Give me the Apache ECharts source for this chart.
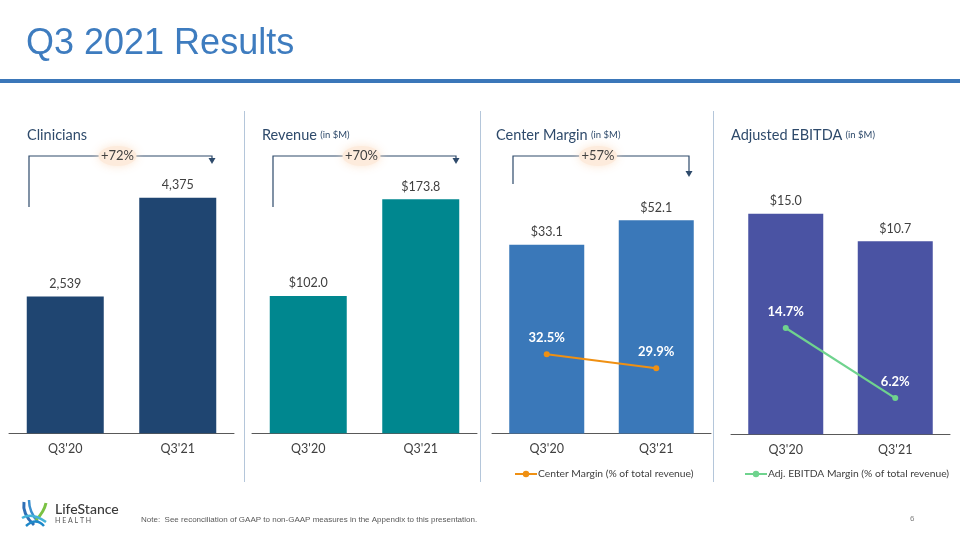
<!DOCTYPE html>
<html lang="en">
<head>
<meta charset="UTF-8" />
<script src="https://cdn.jsdelivr.net/npm/echarts@6/dist/echarts.min.js"></script>
<style>
html,body{margin:0;padding:0;background:#fff}
#main{width:960px;height:540px}
</style>
</head>
<body>
<div id="main"></div>
<script type="text/javascript">
// 数据
var quarters = ["Q3'20", "Q3'21"];
var clinicians = [2539, 4375];
var revenue = [102.0, 173.8];
var centerMargin = [33.1, 52.1];
var centerMarginPct = [32.5, 29.9];
var adjEbitda = [15.0, 10.7];
var adjEbitdaPct = [14.7, 6.2];
var growthLabels = ['+72%', '+70%', '+57%'];
var cmLegend = 'Center Margin (% of total revenue)';
var ebLegend = 'Adj. EBITDA Margin (% of total revenue)';

var FONT = 'Lato, "Open Sans", sans-serif';
var GREY = '#404040';
var NAVY = '#2e4a6b';

function catAxis(i){
	return {
		type:'category', gridIndex:i, data:quarters,
		axisLine:{onZero:false, lineStyle:{color:'#595959', width:1}},
		axisTick:{show:false},
		axisLabel:{color:GREY, fontSize:12.5, fontFamily:FONT, margin:9}
	};
}
function barLabel(fmt){
	return {show:true, position:'top', distance:6, color:GREY, fontSize:12.5, fontFamily:FONT, formatter:fmt};
}
function pctLabel(){
	return {show:true, position:'top', distance:7, color:'#fff', fontSize:13, fontWeight:'bold', fontFamily:FONT,
		formatter:function(p){return p.value.toFixed(1)+'%';}};
}
function money(p){return '$'+p.value.toFixed(1);}

// 标题 + 括号
function panelTitle(x, main, sub){
	return {type:'text', x:x, y:135, style:{
		text: sub ? '{a|'+main+'} {b|'+sub+'}' : '{a|'+main+'}',
		rich:{a:{fontSize:14.5, fill:NAVY, fontFamily:FONT}, b:{fontSize:9.5, fill:NAVY, fontFamily:FONT}},
		textVerticalAlign:'middle'
	}};
}
function bracket(x1, x2, yTop, yLeft, yArrow, lbl){
	var cx = (x1 + x2) / 2 - 3;
	return [
		{type:'polyline', shape:{points:[[x1,yLeft],[x1,yTop],[x2,yTop],[x2,yArrow-5]]},
			style:{stroke:NAVY, lineWidth:1.2, fill:null}},
		{type:'polygon', shape:{points:[[x2-3.5,yArrow-6],[x2+3.5,yArrow-6],[x2,yArrow]]}, style:{fill:NAVY}},
		{type:'ellipse', shape:{cx:cx, cy:yTop, rx:19, ry:10},
			style:{fill:'#fdebdc', shadowBlur:10, shadowColor:'rgba(252,226,204,0.9)'}},
		{type:'text', x:cx, y:yTop, style:{text:lbl, fill:GREY, fontSize:13, fontFamily:FONT, textAlign:'center', textVerticalAlign:'middle'}}
	];
}

var graphics = [
	{type:'text', x:26, y:44, style:{text:'Q3 2021 Results', fill:'#3e7cbf', font:'36px Arial, "Liberation Sans", sans-serif', textVerticalAlign:'middle'}},
	{type:'rect', shape:{x:0, y:79, width:960, height:4}, style:{fill:'#3b77b9'}},
	{type:'line', shape:{x1:244.5, y1:111, x2:244.5, y2:482}, style:{stroke:'#b4c6da', lineWidth:1}},
	{type:'line', shape:{x1:480.5, y1:111, x2:480.5, y2:482}, style:{stroke:'#b4c6da', lineWidth:1}},
	{type:'line', shape:{x1:713.5, y1:111, x2:713.5, y2:482}, style:{stroke:'#b4c6da', lineWidth:1}},
	panelTitle(27, 'Clinicians'),
	panelTitle(262, 'Revenue', '(in $M)'),
	panelTitle(496, 'Center Margin', '(in $M)'),
	panelTitle(731, 'Adjusted EBITDA', '(in $M)'),
	// logo
	{type:'bezierCurve', shape:{x1:24, y1:502, cpx1:22, cpy1:514, x2:34, y2:525}, style:{stroke:'#2f6fb5', lineWidth:3, fill:null}},
	{type:'bezierCurve', shape:{x1:29, y1:500, cpx1:29, cpy1:512, x2:38, y2:522}, style:{stroke:'#3a8fcf', lineWidth:2.5, fill:null}},
	{type:'bezierCurve', shape:{x1:46, y1:503, cpx1:44, cpy1:512, x2:36, y2:520}, style:{stroke:'#7ac143', lineWidth:3, fill:null}},
	{type:'bezierCurve', shape:{x1:22, y1:518, cpx1:32, cpy1:512, x2:46, y2:522}, style:{stroke:'#45b3d9', lineWidth:2.5, fill:null}},
	{type:'bezierCurve', shape:{x1:26, y1:526, cpx1:36, cpy1:517, x2:44, y2:526}, style:{stroke:'#1e88c9', lineWidth:2.5, fill:null}},
	{type:'text', x:55, y:509, style:{text:'LifeStance', fill:'#3a3a3a', fontSize:14, fontWeight:500, fontFamily:FONT, textVerticalAlign:'middle'}},
	{type:'text', x:55, y:521, style:{text:'H E A L T H', fill:'#555', fontSize:7, fontFamily:FONT, textVerticalAlign:'middle'}},
	{type:'text', x:141, y:520, style:{text:'Note:  See reconciliation of GAAP to non-GAAP measures in the Appendix to this presentation.',
		fill:'#595959', font:'8px Arial, "Liberation Sans", sans-serif', textVerticalAlign:'middle'}},
	{type:'text', x:910, y:519, style:{text:'6', fill:'#7f7f7f', font:'8px Arial, "Liberation Sans", sans-serif', textVerticalAlign:'middle'}}
];
graphics = graphics.concat(
	bracket(29, 212, 156, 207, 164, growthLabels[0]),
	bracket(273, 456, 156, 207, 164, growthLabels[1]),
	bracket(513, 689, 156, 184, 177, growthLabels[2])
);

var option = {
	backgroundColor:'#fff',
	animation:false,
	grid:[
		{left:9, top:164, width:225, height:269.3},
		{left:252, top:164, width:225, height:269.3},
		{left:492, top:185, width:219, height:248.5},
		{left:731, top:153, width:219, height:281.3}
	],
	xAxis:[catAxis(0), catAxis(1), catAxis(2), catAxis(3)],
	yAxis:[
		{type:'value', gridIndex:0, min:0, max:5000, show:false},
		{type:'value', gridIndex:1, min:0, max:200, show:false},
		{type:'log', logBase:10, gridIndex:2, min:1, max:100, show:false},
		{type:'value', gridIndex:2, min:17.8, max:63.9, show:false},
		{type:'log', logBase:10, gridIndex:3, min:1, max:31.62, show:false},
		{type:'value', gridIndex:3, min:1.8, max:35.95, show:false}
	],
	legend:[
		{data:[cmLegend], left:509, top:464, itemWidth:22, itemHeight:8, itemGap:4,
			textStyle:{color:GREY, fontSize:10.3, fontFamily:FONT, padding:[0,0,0,-4]}},
		{data:[ebLegend], left:739, top:464, itemWidth:22, itemHeight:8, itemGap:4,
			textStyle:{color:GREY, fontSize:10.3, fontFamily:FONT, padding:[0,0,0,-4]}}
	],
	series:[
		{type:'bar', name:'Clinicians', xAxisIndex:0, yAxisIndex:0, data:clinicians, barWidth:77,
			itemStyle:{color:'#1f4571'},
			label:barLabel(function(p){return p.value.toLocaleString('en-US');})},
		{type:'bar', name:'Revenue', xAxisIndex:1, yAxisIndex:1, data:revenue, barWidth:77,
			itemStyle:{color:'#00878f'}, label:barLabel(money)},
		{type:'bar', name:'Center Margin', xAxisIndex:2, yAxisIndex:2, data:centerMargin, barWidth:75,
			itemStyle:{color:'#3a78b9'}, label:barLabel(money)},
		{type:'line', name:cmLegend, xAxisIndex:2, yAxisIndex:3, data:centerMarginPct, z:5,
			symbol:'circle', symbolSize:6, lineStyle:{color:'#ef9013', width:2.2}, itemStyle:{color:'#ef9013'},
			label:pctLabel()},
		{type:'bar', name:'Adjusted EBITDA', xAxisIndex:3, yAxisIndex:4, data:adjEbitda, barWidth:75,
			itemStyle:{color:'#4a53a3'}, label:barLabel(money)},
		{type:'line', name:ebLegend, xAxisIndex:3, yAxisIndex:5, data:adjEbitdaPct, z:5,
			symbol:'circle', symbolSize:6, lineStyle:{color:'#6fd38e', width:2.2}, itemStyle:{color:'#6fd38e'},
			label:pctLabel()}
	],
	graphic:graphics
};

var myChart = echarts.init(document.getElementById('main'));
myChart.setOption(option);
</script>
</body>
</html>
